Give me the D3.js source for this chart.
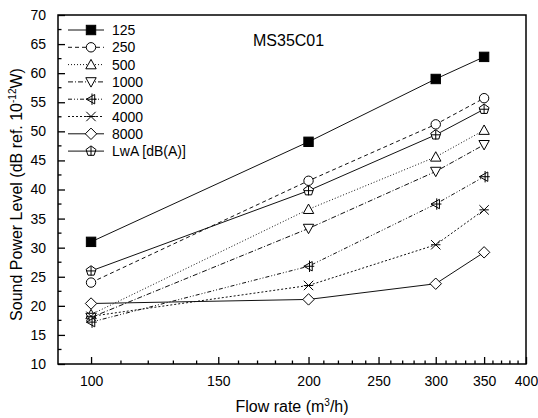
<!DOCTYPE html>
<html>
<head>
<meta charset="utf-8">
<script src="https://cdnjs.cloudflare.com/ajax/libs/d3/7.8.5/d3.min.js"></script>
<style>
  body { margin: 0; background: #fff; }
  svg { font-family: Arial, "Liberation Sans", sans-serif; }
</style>
</head>
<body>
<div id="chart"></div>
<script>
var flowRates = [100, 200, 300, 350];
var seriesNames = ["125", "250", "500", "1000", "2000", "4000", "8000", "LwA [dB(A)]"];
var s125  = [31.0, 48.2, 59.0, 62.8];
var s250  = [24.0, 41.5, 51.2, 55.7];
var s500  = [18.5, 36.6, 45.6, 50.2];
var s1000 = [18.0, 33.3, 43.1, 47.7];
var s2000 = [17.2, 26.8, 37.5, 42.2];
var s4000 = [18.2, 23.5, 30.5, 36.5];
var s8000 = [20.4, 21.1, 23.8, 29.2];
var sLwA  = [26.0, 39.8, 49.4, 53.8];
var xTicks = [100, 150, 200, 250, 300, 350, 400];
var yTicks = [10, 15, 20, 25, 30, 35, 40, 45, 50, 55, 60, 65, 70];

var allSeries = [s125, s250, s500, s1000, s2000, s4000, s8000, sLwA];
var dashes = ["none", "4,3", "1,2", "5,2,1,2", "4,2,1,2,1,2", "2,2", "none", "none"];
var shapes = ["square", "circle", "triangle", "triangleDown", "triangleLeft", "cross", "diamond", "pentagon"];

var width = 538, height = 418;
var margin = {left: 58, top: 15, right: 12, bottom: 54};

var x = d3.scaleLog()
    .domain([90, 400])
    .range([margin.left, width - margin.right]);
var y = d3.scaleLinear()
    .domain([10, 70])
    .range([height - margin.bottom, margin.top]);

var svg = d3.select("#chart").append("svg")
    .attr("width", width)
    .attr("height", height);

// frame
svg.append("rect")
    .attr("x", margin.left).attr("y", margin.top)
    .attr("width", x.range()[1] - margin.left)
    .attr("height", y.range()[0] - margin.top)
    .attr("fill", "none").attr("stroke", "#000").attr("stroke-width", 1.5);

// x ticks (inward)
var xMinor = [];
for (var v = 110; v < 400; v += 10) if (xTicks.indexOf(v) < 0) xMinor.push(v);
var xAxis = d3.axisBottom(x).tickValues(xTicks).tickFormat(d3.format("d")).tickSize(-7).tickPadding(12);
var gx = svg.append("g").attr("transform", "translate(0," + y.range()[0] + ")").call(xAxis);
gx.select(".domain").remove();
gx.selectAll("text").attr("font-size", 14).attr("font-family", "Arial, 'Liberation Sans', sans-serif");
gx.selectAll("line").attr("stroke-width", 1.3);
gx.selectAll(".minor").data(xMinor).enter().append("line")
    .attr("x1", function(d) { return x(d); }).attr("x2", function(d) { return x(d); })
    .attr("y1", 0).attr("y2", -3.5)
    .attr("stroke", "#000").attr("stroke-width", 1.3);

// y ticks (inward)
var yMinor = yTicks.slice(0, -1).map(function(d) { return d + 2.5; });
var yAxis = d3.axisLeft(y).tickValues(yTicks).tickSize(-7).tickPadding(12);
var gy = svg.append("g").attr("transform", "translate(" + margin.left + ",0)").call(yAxis);
gy.select(".domain").remove();
gy.selectAll("text").attr("font-size", 14).attr("font-family", "Arial, 'Liberation Sans', sans-serif");
gy.selectAll("line").attr("stroke-width", 1.3);
gy.selectAll(".minor").data(yMinor).enter().append("line")
    .attr("y1", function(d) { return y(d); }).attr("y2", function(d) { return y(d); })
    .attr("x1", 0).attr("x2", 3.5)
    .attr("stroke", "#000").attr("stroke-width", 1.3);

// axis titles
svg.append("text")
    .attr("x", (margin.left + x.range()[1]) / 2).attr("y", 412)
    .attr("text-anchor", "middle").attr("font-size", 16)
    .html("Flow rate (m<tspan dy='-6' font-size='10'>3</tspan><tspan dy='6'>/h)</tspan>");

svg.append("text")
    .attr("transform", "translate(22," + ((margin.top + y.range()[0]) / 2 + 5) + ") rotate(-90)")
    .attr("text-anchor", "middle").attr("font-size", 16)
    .html("Sound Power Level (dB ref. 10<tspan dy='-6' font-size='10'>-12</tspan><tspan dy='6'>W)</tspan>");

svg.append("text")
    .attr("x", 253).attr("y", 46)
    .attr("font-size", 16)
    .text("MS35C01");

function drawMarker(g, shape, cx, cy) {
    var r = 4.7;
    var el;
    if (shape == "square") {
        el = g.append("rect").attr("x", cx - r).attr("y", cy - r).attr("width", 2 * r).attr("height", 2 * r).attr("fill", "#000");
    } else if (shape == "circle") {
        el = g.append("circle").attr("cx", cx).attr("cy", cy).attr("r", r);
    } else if (shape == "triangle") {
        el = g.append("path").attr("d", "M" + cx + "," + (cy - r - 0.5) + "L" + (cx + r + 0.5) + "," + (cy + r - 0.5) + "L" + (cx - r - 0.5) + "," + (cy + r - 0.5) + "Z");
    } else if (shape == "triangleDown") {
        el = g.append("path").attr("d", "M" + cx + "," + (cy + r + 0.5) + "L" + (cx + r + 0.5) + "," + (cy - r + 0.5) + "L" + (cx - r - 0.5) + "," + (cy - r + 0.5) + "Z");
    } else if (shape == "triangleLeft") {
        el = g.append("path").attr("d", "M" + (cx - r) + "," + cy + "L" + (cx + r - 1) + "," + (cy - r) + "L" + (cx + r - 1) + "," + (cy + r) + "Z");
        g.append("line").attr("x1", cx - r).attr("x2", cx + r + 1).attr("y1", cy).attr("y2", cy).attr("stroke", "#000");
        g.append("line").attr("x1", cx + 1).attr("x2", cx + 1).attr("y1", cy - r - 1).attr("y2", cy + r + 1).attr("stroke", "#000");
    } else if (shape == "cross") {
        el = g.append("path").attr("d", "M" + (cx - r) + "," + (cy - r) + "L" + (cx + r) + "," + (cy + r) + "M" + (cx + r) + "," + (cy - r) + "L" + (cx - r) + "," + (cy + r) + "M" + (cx - r) + "," + cy + "L" + (cx + r) + "," + cy);
    } else if (shape == "diamond") {
        el = g.append("path").attr("d", "M" + cx + "," + (cy - r - 1) + "L" + (cx + r + 1) + "," + cy + "L" + cx + "," + (cy + r + 1) + "L" + (cx - r - 1) + "," + cy + "Z");
    } else {
        var pts = [];
        for (var k = 0; k < 5; k++) {
            var a = -Math.PI / 2 + k * 2 * Math.PI / 5;
            pts.push([cx + (r + 0.5) * Math.cos(a), cy + (r + 0.5) * Math.sin(a)]);
        }
        el = g.append("path").attr("d", "M" + pts.join("L") + "Z");
        g.append("line").attr("x1", cx - r).attr("x2", cx + r).attr("y1", cy).attr("y2", cy).attr("stroke", "#000");
        g.append("line").attr("x1", cx).attr("x2", cx).attr("y1", cy - r).attr("y2", cy + r).attr("stroke", "#000");
    }
    if (shape != "square") el.attr("fill", shape == "cross" ? "none" : "#fff");
    el.attr("stroke", "#000").attr("stroke-width", 1);
    el.lower();
}

var line = d3.line()
    .x(function(d, i) { return x(flowRates[i]); })
    .y(function(d) { return y(d); });

// lines first, then markers
allSeries.forEach(function(s, i) {
    svg.append("path")
        .datum(s)
        .attr("d", line)
        .attr("fill", "none")
        .attr("stroke", "#111")
        .attr("stroke-width", 1)
        .attr("stroke-dasharray", dashes[i]);
});
allSeries.forEach(function(s, i) {
    s.forEach(function(v, j) {
        var g = svg.append("g");
        drawMarker(g, shapes[i], x(flowRates[j]), y(v));
    });
});

// legend
var legend = svg.append("g");
seriesNames.forEach(function(name, i) {
    var ly = 30 + i * 17.3;
    legend.append("line")
        .attr("x1", 68).attr("x2", 104).attr("y1", ly).attr("y2", ly)
        .attr("stroke", "#111").attr("stroke-width", 1)
        .attr("stroke-dasharray", dashes[i]);
    var g = legend.append("g");
    drawMarker(g, shapes[i], 91, ly);
    legend.append("text")
        .attr("x", 112).attr("y", ly + 5)
        .attr("font-size", 14)
        .text(name);
});
</script>
</body>
</html>
